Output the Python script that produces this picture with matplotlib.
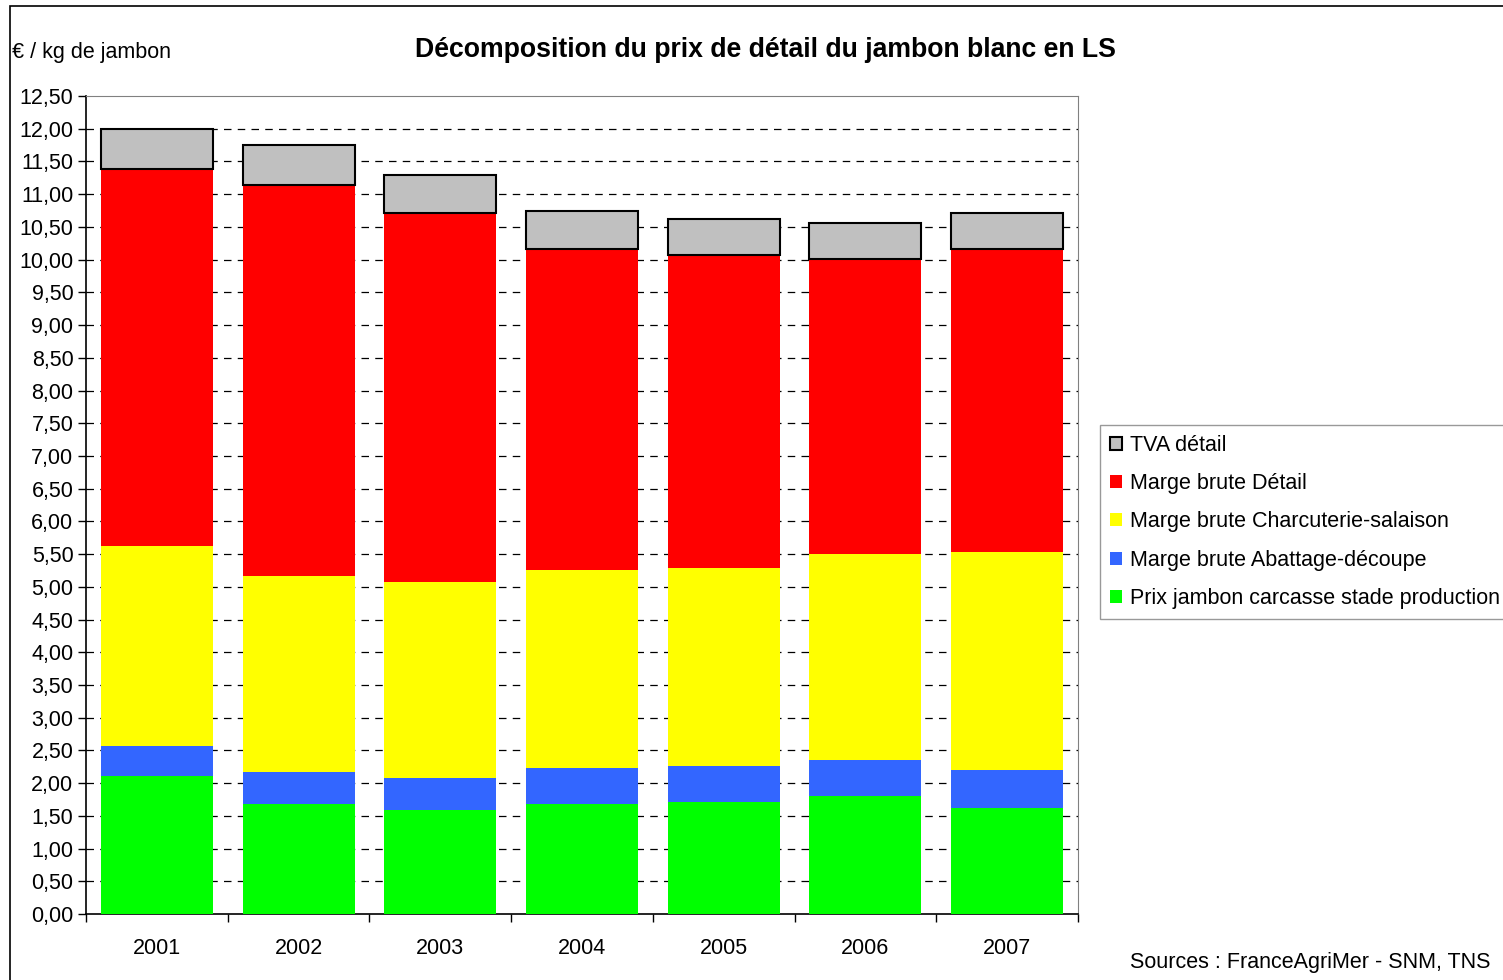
import matplotlib.pyplot as plt
from matplotlib.patches import Rectangle
from matplotlib.ticker import MultipleLocator, FuncFormatter
import numpy as np

plt.rcParams['font.family'] = ['Liberation Sans', 'DejaVu Sans']

years = ['2001', '2002', '2003', '2004', '2005', '2006', '2007']
prix_production = [2.11, 1.68, 1.59, 1.68, 1.71, 1.80, 1.62]
marge_abattage = [0.46, 0.49, 0.49, 0.55, 0.55, 0.55, 0.58]
marge_charcuterie = [3.05, 3.00, 2.99, 3.03, 3.03, 3.15, 3.33]
marge_detail = [5.76, 5.97, 5.64, 4.90, 4.78, 4.51, 4.63]
tva_detail = [0.62, 0.61, 0.58, 0.58, 0.55, 0.55, 0.55]

series = [
    ("Prix jambon carcasse stade production", prix_production, "#00ff00"),
    ("Marge brute Abattage-découpe", marge_abattage, "#3366ff"),
    ("Marge brute Charcuterie-salaison", marge_charcuterie, "#ffff00"),
    ("Marge brute Détail", marge_detail, "#ff0000"),
    ("TVA détail", tva_detail, "#c0c0c0"),
]

fig = plt.figure(figsize=(15.03, 9.8), dpi=100)
ax = fig.add_axes([0.0572, 0.0673, 0.66, 0.8347])

x = np.arange(len(years))
bottom = np.zeros(len(years))
handles = []
for label, vals, color in series:
    if label == "TVA détail":
        b = ax.bar(x, vals, bottom=bottom, width=0.79, color=color,
                   edgecolor='black', linewidth=1.5, label=label, zorder=3)
    else:
        b = ax.bar(x, vals, bottom=bottom, width=0.79, color=color,
                   linewidth=0, label=label, zorder=3)
    handles.append(b)
    bottom += np.array(vals)

ax.set_xlim(-0.5, len(years) - 0.5)
ax.set_ylim(0, 12.5)
ax.yaxis.set_major_locator(MultipleLocator(0.5))
ax.yaxis.set_major_formatter(FuncFormatter(lambda v, p: f"{v:.2f}".replace('.', ',')))
ax.set_xticks(x)
ax.set_xticklabels(years)
ax.set_xticks(np.arange(len(years) + 1) - 0.5, minor=True)
ax.tick_params(axis='x', which='major', length=0, pad=17, labelsize=15.5)
ax.tick_params(axis='x', which='minor', length=6, direction='out', width=1)
ax.tick_params(axis='y', length=6, direction='out', width=1, labelsize=15.5, pad=3)

for yv in np.arange(0.5, 12.01, 0.5):
    ax.axhline(yv, color='black', linestyle=(0, (6, 5)), linewidth=0.9, zorder=1)

ax.spines['top'].set_color('#808080')
ax.spines['right'].set_color('#808080')
ax.spines['left'].set_color('black')
ax.spines['bottom'].set_color('black')
ax.spines['left'].set_linewidth(1.2)
ax.spines['bottom'].set_linewidth(1.2)

fig.text(0.509, 0.949, "Décomposition du prix de détail du jambon blanc en LS",
         ha='center', va='center', fontsize=19.2, fontweight='bold')
fig.text(0.008, 0.946, "€ / kg de jambon", ha='left', va='center', fontsize=15.5)
fig.text(0.992, 0.018, "Sources : FranceAgriMer - SNM, TNS", ha='right',
         va='center', fontsize=15.5)

leg = fig.legend(handles[::-1], [s[0] for s in series[::-1]],
                 loc='upper left', bbox_to_anchor=(0.7318, 0.566),
                 fontsize=15.5, handlelength=0.56, handleheight=0.56,
                 handletextpad=0.37, labelspacing=0.8, borderpad=0.45,
                 borderaxespad=0, frameon=True, fancybox=False)
leg.get_frame().set_edgecolor('#808080')
leg.get_frame().set_linewidth(1)

fig.patches.append(Rectangle((10 / 1503, -0.01), 1.0, 1 - 6 / 980 + 0.01,
                             transform=fig.transFigure, fill=False,
                             edgecolor='black', linewidth=1.2))

fig.savefig("out.png")
